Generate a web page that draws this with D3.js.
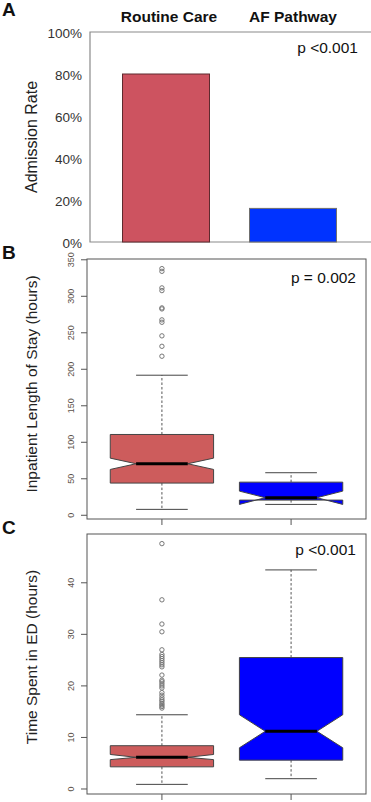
<!DOCTYPE html>
<html>
<head>
<meta charset="utf-8">
<script src="https://cdn.jsdelivr.net/npm/d3@7"></script>
<style>
body { margin: 0; background: #fff; }
text { font-family: "Liberation Sans", Arial, sans-serif; }
</style>
</head>
<body>
<script>
// groups and values
var groups = ["Routine Care", "AF Pathway"];
var admissionRate = [0.80, 0.16];
var admissionTicks = [0, 0.2, 0.4, 0.6, 0.8, 1.0];

// inpatient length of stay (hours): box stats per group
var losQ1 = [43.4, 20.1];
var losMedian = [69.9, 23.4];
var losQ3 = [110, 44.7];
var losNotchLo = [62.1, 14.2];
var losNotchHi = [77.6, 32.4];
var losWhiskerLo = [7.4, 14.2];
var losWhiskerHi = [191.2, 57.6];
var losOutliers = [337.2, 333.5, 310.8, 307.1, 283.4, 282.0, 267.0, 263.7, 245.1, 230.8, 217.2];
var losTicks = [0, 50, 100, 150, 200, 250, 300, 350];

// time spent in ED (hours)
var edQ1 = [4.2, 5.5];
var edMedian = [6.05, 11.1];
var edQ3 = [8.3, 25.4];
var edNotchLo = [5.6, 7.9];
var edNotchHi = [6.6, 14.3];
var edWhiskerLo = [0.8, 1.9];
var edWhiskerHi = [14.3, 42.4];
var edOutliers = [47.5, 36.6, 31.9, 30.4, 26.9, 26.0, 25.6, 25.2, 24.8, 24.4, 24.0, 23.6, 22.0,
                  21.0, 20.7, 20.3, 19.9, 19.5, 18.6, 18.1, 17.6, 17.2, 16.9, 16.5, 16.2, 15.9, 15.6];
var edTicks = [0, 10, 20, 30, 40];

var pValues = ["p <0.001", "p = 0.002", "p <0.001"];

var width = 371, height = 802;
var svg = d3.select("body").append("svg").attr("width", width).attr("height", height);

var red = "#cd5c5c", blue = "#0000ff";

// ---------- panel A ----------
var gA = svg.append("g");
var xA = d3.scaleBand().domain(groups).range([90, 369]).paddingInner(0.315).paddingOuter(0.256);
var yA = d3.scaleLinear().domain([0, 1]).range([242, 32]);

gA.append("path")
    .attr("d", "M371,32H90V242H371")
    .attr("fill", "none").attr("stroke", "#8a8a8a").attr("stroke-width", 1.2);

gA.selectAll("rect").data(admissionRate).enter().append("rect")
    .attr("x", (d, i) => xA(groups[i]))
    .attr("y", d => yA(d))
    .attr("width", xA.bandwidth())
    .attr("height", d => yA(0) - yA(d))
    .attr("fill", (d, i) => i == 0 ? "#cd5360" : "#0033ff")
    .attr("stroke", (d, i) => i == 0 ? "#5e2a2e" : "#6f6f6f")
    .attr("stroke-width", 1);

gA.selectAll("text.tick").data(admissionTicks).enter().append("text")
    .attr("class", "tick")
    .attr("x", 82).attr("y", d => yA(d)).attr("dy", "0.45em")
    .attr("text-anchor", "end").attr("font-size", 13.5).attr("fill", "#333")
    .text(d => Math.round(d * 100) + "%");

svg.selectAll("text.head").data(groups).enter().append("text")
    .attr("class", "head")
    .attr("x", (d, i) => xA(d) + xA.bandwidth() / 2 + (i == 0 ? 3 : 0))
    .attr("y", 22)
    .attr("text-anchor", "middle").attr("font-size", 15.5).attr("font-weight", "bold").attr("fill", "#111")
    .text(d => d);

// ---------- panels B and C (R style notched boxplots) ----------
var xBox = d3.scaleLinear().domain([0.42, 2.58]).range([87, 366]);

function paddedDomain(vals) {
    var e = d3.extent(vals), pad = (e[1] - e[0]) * 0.04;
    return [e[0] - pad, e[1] + pad];
}

function boxPanel(top, bottom, q1, med, q3, nlo, nhi, wlo, whi, outliers, ticks) {
    var g = svg.append("g");
    var y = d3.scaleLinear()
        .domain(paddedDomain(wlo.concat(whi, outliers)))
        .range([bottom, top]);

    g.append("rect").attr("x", 87).attr("y", top).attr("width", 366 - 87).attr("height", bottom - top)
        .attr("fill", "none").attr("stroke", "#555").attr("stroke-width", 1);

    var ax = g.append("g").attr("transform", "translate(87,0)")
        .call(d3.axisLeft(y).tickValues(ticks).tickSize(6).tickFormat(d3.format("d")));
    ax.select(".domain").remove();
    ax.selectAll("line").attr("stroke", "#555");
    ax.selectAll("text")
        .attr("x", 0).attr("dy", 0).attr("text-anchor", "middle")
        .attr("transform", "translate(-13,0) rotate(-90)")
        .attr("font-size", 9).attr("fill", "#5a5048")
        .style("font-family", "'Liberation Sans', Arial, sans-serif");

    g.selectAll("line.xt").data([1, 2]).enter().append("line")
        .attr("class", "xt")
        .attr("x1", d => xBox(d)).attr("x2", d => xBox(d))
        .attr("y1", bottom).attr("y2", bottom + 6)
        .attr("stroke", "#555");

    var idx = [0, 1];
    // whiskers (dashed) and staples
    g.selectAll("line.wu").data(idx).enter().append("line")
        .attr("x1", i => xBox(i + 1)).attr("x2", i => xBox(i + 1))
        .attr("y1", i => y(q3[i])).attr("y2", i => y(whi[i]))
        .attr("stroke", "#555").attr("stroke-dasharray", "2.5,2");
    g.selectAll("line.wl").data(idx).enter().append("line")
        .attr("x1", i => xBox(i + 1)).attr("x2", i => xBox(i + 1))
        .attr("y1", i => y(q1[i])).attr("y2", i => y(wlo[i]))
        .attr("stroke", "#555").attr("stroke-dasharray", "2.5,2");
    [whi, wlo].forEach(function (w) {
        g.selectAll(null).data(idx).enter().append("line")
            .attr("x1", i => xBox(i + 1 - 0.2)).attr("x2", i => xBox(i + 1 + 0.2))
            .attr("y1", i => y(w[i])).attr("y2", i => y(w[i]))
            .attr("stroke", "#444");
    });

    // notched boxes
    g.selectAll("path.box").data(idx).enter().append("path")
        .attr("class", "box")
        .attr("d", function (i) {
            var c = i + 1;
            var xl = xBox(c - 0.4), xr = xBox(c + 0.4), xlm = xBox(c - 0.2), xrm = xBox(c + 0.2);
            return d3.line()([
                [xl, y(q1[i])], [xl, y(nlo[i])], [xlm, y(med[i])], [xl, y(nhi[i])], [xl, y(q3[i])],
                [xr, y(q3[i])], [xr, y(nhi[i])], [xrm, y(med[i])], [xr, y(nlo[i])], [xr, y(q1[i])]
            ]) + "Z";
        })
        .attr("fill", i => i == 0 ? red : blue)
        .attr("stroke", "#444").attr("stroke-width", 1);

    g.selectAll("line.med").data(idx).enter().append("line")
        .attr("x1", i => xBox(i + 1 - 0.2)).attr("x2", i => xBox(i + 1 + 0.2))
        .attr("y1", i => y(med[i])).attr("y2", i => y(med[i]))
        .attr("stroke", "#000").attr("stroke-width", 3);

    g.selectAll("circle").data(outliers).enter().append("circle")
        .attr("cx", xBox(1)).attr("cy", d => y(d)).attr("r", 2.2)
        .attr("fill", "none").attr("stroke", "#777").attr("stroke-width", 1);
    return g;
}

boxPanel(259, 519, losQ1, losMedian, losQ3, losNotchLo, losNotchHi, losWhiskerLo, losWhiskerHi, losOutliers, losTicks);
boxPanel(534, 794, edQ1, edMedian, edQ3, edNotchLo, edNotchHi, edWhiskerLo, edWhiskerHi, edOutliers, edTicks);

// p values
svg.selectAll("text.pv").data(pValues).enter().append("text")
    .attr("class", "pv")
    .attr("x", (d, i) => [358, 356, 356][i])
    .attr("y", (d, i) => [53, 283, 555][i])
    .attr("text-anchor", "end").attr("font-size", 15.5).attr("fill", "#111")
    .text(d => d);

// y axis titles
var titles = ["Admission Rate", "Inpatient Length of Stay (hours)", "Time Spent in ED (hours)"];
var titleY = [137, 384, 657];
svg.selectAll("text.ytitle").data(titles).enter().append("text")
    .attr("class", "ytitle")
    .attr("transform", (d, i) => "translate(37," + titleY[i] + ") rotate(-90)")
    .attr("text-anchor", "middle").attr("font-size", (d, i) => i == 0 ? 16 : 15.5).attr("fill", "#222")
    .text(d => d);

// panel letters
svg.selectAll("text.letter").data(["A", "B", "C"]).enter().append("text")
    .attr("class", "letter")
    .attr("x", 2).attr("y", (d, i) => [16, 259, 534][i])
    .attr("font-size", 19).attr("font-weight", "bold").attr("fill", "#111")
    .text(d => d);
</script>
</body>
</html>
